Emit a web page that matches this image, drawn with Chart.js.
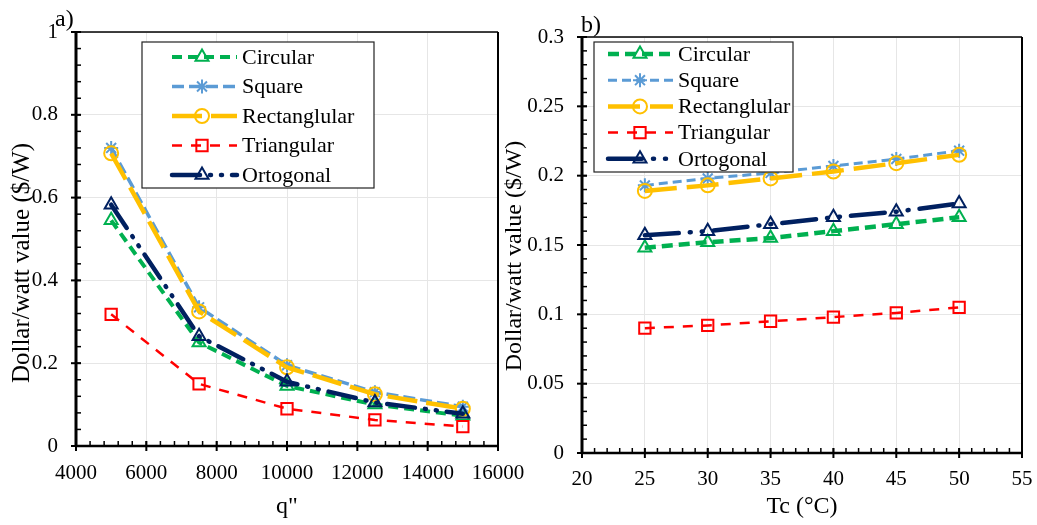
<!DOCTYPE html>
<html>
<head>
<meta charset="utf-8">
<script src="https://cdn.jsdelivr.net/npm/chart.js@4.4.1/dist/chart.umd.min.js"></script>
<style>
  body { margin: 0; background: #fff; width: 1037px; height: 525px; position: relative; overflow: hidden; }
  canvas { position: absolute; top: 0; }
  #chartA { left: 0; }
  #chartB { left: 497px; }
</style>
</head>
<body>
<canvas id="chartA" width="530" height="525"></canvas>
<canvas id="chartB" width="540" height="525"></canvas>
<script>
// series names (legend)
const names = ["Circular", "Square", "Rectanglular", "Triangular", "Ortogonal"];

// panel a) : dollar/watt vs heat flux q''
const qFlux = [5000, 7500, 10000, 12500, 15000];
const circularA = [0.545, 0.25, 0.145, 0.10, 0.073];
const squareA = [0.72, 0.335, 0.195, 0.13, 0.095];
const rectA = [0.707, 0.325, 0.19, 0.125, 0.09];
const triA = [0.318, 0.15, 0.09, 0.063, 0.047];
const ortoA = [0.583, 0.265, 0.155, 0.105, 0.078];

// panel b) : dollar/watt vs Tc
const tc = [25, 30, 35, 40, 45, 50];
const circularB = [0.148, 0.152, 0.155, 0.16, 0.165, 0.17];
const squareB = [0.193, 0.198, 0.202, 0.207, 0.212, 0.218];
const rectB = [0.189, 0.193, 0.198, 0.203, 0.209, 0.215];
const triB = [0.09, 0.092, 0.095, 0.098, 0.101, 0.105];
const ortoB = [0.157, 0.16, 0.165, 0.17, 0.174, 0.18];

// ticks
const xTicksA = { min: 4000, max: 16000, step: 2000, minor: 400 };
const yTicksA = { min: 0, max: 1, step: 0.2, minor: 0.04 };
const xTicksB = { min: 20, max: 55, step: 5, minor: 1 };
const yTicksB = { min: 0, max: 0.3, step: 0.05, minor: 0.01 };

// look of each series
const colors = ["#00B050", "#5B9BD5", "#FFC000", "#FF0000", "#002060"];
const markers = ["triangle", "star", "circle", "rect", "triangle"];
const markerSize = [7.5, 7, 7, 8, 7.5];
const widthsA = [4, 3.5, 4.5, 2.5, 4.5];
const widthsB = [4.5, 3, 4.5, 2.5, 4.5];
const dashA = [[10, 6], [12, 5], [30, 9], [10, 9], [28, 10, 1, 10, 1, 10]];
const dashB = [[11, 6], [9, 5], [32, 10], [10, 9], [34, 11, 1, 11, 1, 11]];
const caps = ["butt", "butt", "butt", "butt", "round"];

const FONT = "'Liberation Serif', 'Times New Roman', serif";
const Y_TITLE = "Dollar/watt value ($/W)";

function fmt(v) { return String(Number(v.toFixed(3))); }

function buildDatasets(xs, series, widths, dashes) {
  return series.map((ys, i) => ({
    label: names[i],
    data: xs.map((x, j) => ({ x: x, y: ys[j] })),
    showLine: true,
    borderColor: colors[i],
    borderWidth: widths[i],
    borderDash: dashes[i],
    borderCapStyle: caps[i],
    pointStyle: markers[i],
    pointRadius: markerSize[i],
    pointBorderWidth: 2,
    pointBorderColor: colors[i],
    pointBackgroundColor: "rgba(255,255,255,0)",
    order: 5 - i,
    tension: 0
  }));
}

function marker(ctx, style, r, x, y) {
  ctx.beginPath();
  if (style === "triangle") {
    ctx.moveTo(x, y - r);
    ctx.lineTo(x + r * 0.866, y + r * 0.5);
    ctx.lineTo(x - r * 0.866, y + r * 0.5);
    ctx.closePath();
  } else if (style === "circle") {
    ctx.arc(x, y, r, 0, Math.PI * 2);
  } else if (style === "rect") {
    const s = r * Math.SQRT1_2;
    ctx.rect(x - s, y - s, 2 * s, 2 * s);
  } else if (style === "star") {
    for (let k = 0; k < 4; k++) {
      const a = k * Math.PI / 4;
      ctx.moveTo(x + Math.cos(a) * r, y + Math.sin(a) * r);
      ctx.lineTo(x - Math.cos(a) * r, y - Math.sin(a) * r);
    }
  }
  ctx.stroke();
}

const framePlugin = {
  id: "frame",
  beforeDatasetsDraw(chart, args, o) {
    const { ctx, chartArea: a, scales: { x, y } } = chart;
    ctx.save();
    ctx.setLineDash([]);
    ctx.strokeStyle = "#000";
    ctx.lineCap = "butt";
    // minor ticks (inside)
    ctx.lineWidth = 1.5;
    let n = Math.round((o.xt.max - o.xt.min) / o.xt.minor);
    for (let k = 1; k < n; k++) {
      const px = x.getPixelForValue(o.xt.min + k * o.xt.minor);
      ctx.beginPath(); ctx.moveTo(px, a.bottom); ctx.lineTo(px, a.bottom - 5); ctx.stroke();
    }
    n = Math.round((o.yt.max - o.yt.min) / o.yt.minor);
    for (let k = 1; k < n; k++) {
      const py = y.getPixelForValue(o.yt.min + k * o.yt.minor);
      ctx.beginPath(); ctx.moveTo(a.left, py); ctx.lineTo(a.left + 5, py); ctx.stroke();
    }
    // major ticks (cross)
    ctx.lineWidth = 2;
    x.ticks.forEach(t => {
      const px = x.getPixelForValue(t.value);
      ctx.beginPath(); ctx.moveTo(px, a.bottom + 5); ctx.lineTo(px, a.bottom - 5); ctx.stroke();
    });
    y.ticks.forEach(t => {
      const py = y.getPixelForValue(t.value);
      ctx.beginPath(); ctx.moveTo(a.left - 5, py); ctx.lineTo(a.left + 5, py); ctx.stroke();
    });
    // border
    ctx.lineWidth = 1.5;
    ctx.beginPath(); ctx.moveTo(a.left, a.top); ctx.lineTo(a.right, a.top); ctx.stroke();
    ctx.lineWidth = 2;
    ctx.beginPath(); ctx.moveTo(a.right, a.top); ctx.lineTo(a.right, a.bottom); ctx.stroke();
    ctx.lineWidth = 2.5;
    ctx.beginPath(); ctx.moveTo(a.left - 1, a.bottom); ctx.lineTo(a.right + 1, a.bottom); ctx.stroke();
    ctx.lineWidth = 3;
    ctx.beginPath(); ctx.moveTo(a.left, a.top - 1); ctx.lineTo(a.left, a.bottom + 1); ctx.stroke();
    ctx.restore();
  },
  afterDraw(chart, args, o) {
    const ctx = chart.ctx;
    const L = o.legend;
    ctx.save();
    ctx.fillStyle = "#000";
    // y axis title
    ctx.save();
    ctx.translate(o.yTitle.x, o.yTitle.y);
    ctx.rotate(-Math.PI / 2);
    ctx.font = o.yTitle.size + "px " + FONT;
    ctx.textAlign = "center";
    ctx.textBaseline = "middle";
    ctx.fillText(Y_TITLE, 0, 0);
    ctx.restore();
    // panel label
    ctx.font = "24px " + FONT;
    ctx.textBaseline = "alphabetic";
    ctx.textAlign = "left";
    ctx.fillText(o.panel.text, o.panel.x, o.panel.y);
    // legend box
    ctx.fillStyle = "#fff";
    ctx.fillRect(L.x, L.y, L.w, L.h);
    ctx.strokeStyle = "#222";
    ctx.lineWidth = 1.2;
    ctx.setLineDash([]);
    ctx.strokeRect(L.x, L.y, L.w, L.h);
    chart.data.datasets.forEach((ds, i) => {
      const ry = L.row0 + i * L.gap;
      ctx.strokeStyle = ds.borderColor;
      ctx.lineWidth = ds.borderWidth;
      ctx.lineCap = ds.borderCapStyle;
      ctx.setLineDash(ds.borderDash);
      ctx.beginPath(); ctx.moveTo(L.lx0, ry); ctx.lineTo(L.lx1, ry); ctx.stroke();
      ctx.setLineDash([]);
      ctx.lineCap = "butt";
      ctx.lineWidth = 2;
      marker(ctx, ds.pointStyle, ds.pointRadius, L.mx, ry);
      ctx.fillStyle = "#000";
      ctx.font = "22px " + FONT;
      ctx.textBaseline = "middle";
      ctx.fillText(ds.label, L.tx, ry + 1);
    });
    ctx.restore();
  }
};

function makeChart(id, cfg) {
  return new Chart(document.getElementById(id), {
    type: "scatter",
    data: { datasets: cfg.datasets },
    options: {
      responsive: false,
      animation: false,
      devicePixelRatio: 1,
      layout: { padding: cfg.pad },
      plugins: {
        legend: { display: false },
        tooltip: { enabled: false },
        frame: { xt: cfg.xt, yt: cfg.yt, legend: cfg.legend, panel: cfg.panel, yTitle: cfg.yTitle }
      },
      scales: {
        x: {
          type: "linear",
          min: cfg.xt.min, max: cfg.xt.max,
          afterFit(s) { s.height = cfg.xH; s.paddingLeft = 0; s.paddingRight = 0; },
          ticks: { stepSize: cfg.xt.step, color: "#000", font: { family: FONT, size: 21 }, padding: cfg.xPad, maxRotation: 0, autoSkip: false, callback: v => fmt(v) },
          grid: { color: "#e6e6e6", lineWidth: 1, drawTicks: false },
          border: { display: false },
          title: { display: true, text: cfg.xTitle, color: "#000", font: { family: FONT, size: 24 }, padding: { top: 0, bottom: 0 } }
        },
        y: {
          type: "linear",
          min: cfg.yt.min, max: cfg.yt.max,
          afterFit(s) { s.width = cfg.yW; s.paddingTop = 0; s.paddingBottom = 0; },
          ticks: { stepSize: cfg.yt.step, color: "#000", font: { family: FONT, size: 21 }, padding: 18, autoSkip: false, callback: v => fmt(v) },
          grid: { color: "#e6e6e6", lineWidth: 1, drawTicks: false },
          border: { display: false },
          title: { display: false }
        }
      }
    },
    plugins: [framePlugin]
  });
}

makeChart("chartA", {
  datasets: buildDatasets(qFlux, [circularA, squareA, rectA, triA, ortoA], widthsA, dashA),
  xt: xTicksA, yt: yTicksA,
  pad: { left: 4, top: 32, right: 32, bottom: 4 },
  yW: 72, xH: 75, xPad: 15, 
  xTitle: "q\"",
  yTitle: { x: 22, y: 263, size: 25 },
  panel: { text: "a)", x: 55, y: 26 },
  legend: { x: 142, y: 42, w: 232, h: 146, row0: 57, gap: 29.5, lx0: 172, lx1: 237, mx: 202, tx: 242 }
});

makeChart("chartB", {
  datasets: buildDatasets(tc, [circularB, squareB, rectB, triB, ortoB], widthsB, dashB),
  xt: xTicksB, yt: yTicksB,
  pad: { left: 4, top: 37, right: 15, bottom: 4 },
  yW: 81, xH: 68, xPad: 14,
  xTitle: "Tc (°C)",
  yTitle: { x: 18, y: 256, size: 24 },
  panel: { text: "b)", x: 84, y: 32 },
  legend: { x: 97, y: 42, w: 199, h: 130, row0: 54, gap: 26.2, lx0: 111, lx1: 176, mx: 143, tx: 181 }
});
</script>
</body>
</html>
